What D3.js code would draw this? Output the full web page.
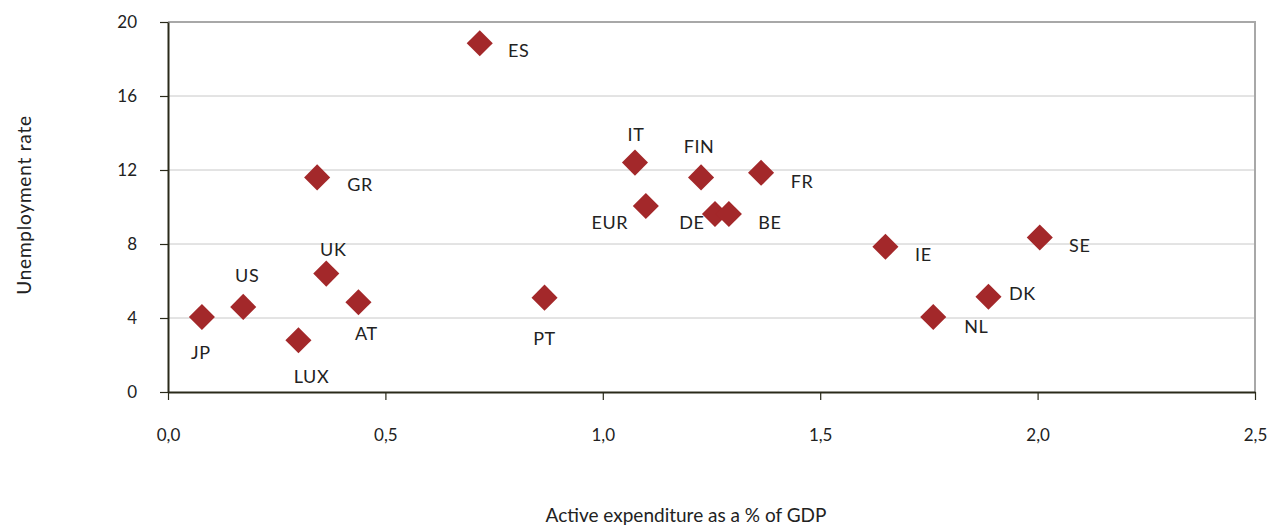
<!DOCTYPE html>
<html>
<head>
<meta charset="utf-8">
<script src="https://cdn.jsdelivr.net/npm/d3@7"></script>
<style>
  body { margin: 0; background: #fff; }
  text { font-family: Lato, "Open Sans", sans-serif; fill: #222; }
</style>
</head>
<body>
<div id="chart"></div>
<script>
// countries, active expenditure (% GDP), unemployment rate
const countries = ["JP", "US", "LUX", "GR", "UK", "AT", "ES", "PT", "IT", "EUR", "FIN", "DE", "BE", "FR", "IE", "NL", "DK", "SE"];
const expenditure = [0.078, 0.173, 0.30, 0.343, 0.364, 0.438, 0.717, 0.866, 1.074, 1.099, 1.226, 1.258, 1.29, 1.364, 1.65, 1.76, 1.887, 2.005];
const unemployment = [4.05, 4.6, 2.8, 11.6, 6.4, 4.85, 18.85, 5.1, 12.4, 10.05, 11.6, 9.62, 9.62, 11.85, 7.85, 4.05, 5.15, 8.35];
const xTicks = [0, 0.5, 1, 1.5, 2, 2.5];
const yTicks = [0, 4, 8, 12, 16, 20];

// label placement relative to the marker [dx, dy]
const labelOffsets = [[-1, 42], [4, -25], [13, 43], [43, 14], [7, -18], [8, 38], [39, 14], [0, 47], [1, -22], [-36, 23], [-2, -24], [-23, 15], [41, 15], [41, 15], [38, 14], [43, 16], [34, 3], [40, 14]];

const W = 1271, H = 527;
const margin = {top: 22, left: 168};

const svg = d3.select("#chart").append("svg")
    .attr("width", W)
    .attr("height", H);
const g = svg.append("g")
    .attr("transform", `translate(${margin.left},${margin.top})`);

const x = d3.scaleLinear().domain([0, 2.5]).range([0, 1087]);
const y = d3.scaleLinear().domain([0, 20]).range([370, 0]);

// gridlines
g.selectAll(".grid")
  .data(yTicks.filter(d => d > 0 && d < 20))
  .enter().append("line")
    .attr("x1", 0).attr("x2", x(2.5))
    .attr("y1", d => y(d)).attr("y2", d => y(d))
    .attr("stroke", "#c8c8c8").attr("stroke-width", 1);

// top and right frame
g.append("path")
  .attr("d", `M0,${y(20)}H${x(2.5)}V${y(0)}`)
  .attr("fill", "none").attr("stroke", "#a8a8a8").attr("stroke-width", 2);

// axes
const yAxis = g.append("g")
  .call(d3.axisLeft(y).tickValues(yTicks).tickSize(8).tickSizeOuter(0).tickFormat(d3.format("d")));
const xAxis = g.append("g")
  .attr("transform", `translate(0,${y(0)})`)
  .call(d3.axisBottom(x).tickValues(xTicks).tickSize(8).tickSizeOuter(0).tickFormat(d => d3.format(".1f")(d).replace(".", ",")));

[yAxis, xAxis].forEach(a => {
  a.select(".domain").attr("stroke", "#2a2a1a").attr("stroke-width", 2);
  a.selectAll(".tick line").attr("stroke", "#2a2a1a").attr("stroke-width", 1.2);
  a.selectAll(".tick text").style("font-size", "17px").attr("fill", "#222");
});
yAxis.selectAll(".tick text").attr("x", -31);
xAxis.selectAll(".tick text").attr("y", 37);

// diamonds
const pts = countries.map((c, i) => ({c: c, x: expenditure[i], y: unemployment[i], o: labelOffsets[i]}));
g.selectAll(".pt")
  .data(pts)
  .enter().append("path")
    .attr("d", d3.symbol().type(d3.symbolSquare).size(340))
    .attr("transform", d => `translate(${x(d.x)},${y(d.y)}) rotate(45)`)
    .attr("fill", "#a3282a");

g.selectAll(".lbl")
  .data(pts)
  .enter().append("text")
    .attr("x", d => x(d.x) + d.o[0])
    .attr("y", d => y(d.y) + d.o[1])
    .attr("text-anchor", "middle")
    .style("font-size", "18px")
    .style("letter-spacing", "0.6px")
    .text(d => d.c);

// axis titles
svg.append("text")
  .attr("x", 686).attr("y", 522)
  .attr("text-anchor", "middle")
  .style("font-size", "19px")
  .text("Active expenditure as a % of GDP");

svg.append("text")
  .attr("transform", "translate(31,205) rotate(-90)")
  .attr("text-anchor", "middle")
  .style("font-size", "19px")
  .style("letter-spacing", "0.8px")
  .text("Unemployment rate");
</script>
</body>
</html>
